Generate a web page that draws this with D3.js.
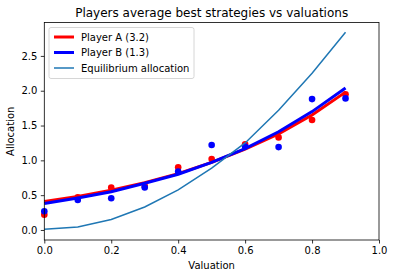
<!DOCTYPE html>
<html><head><meta charset="utf-8">
<script src="https://cdn.jsdelivr.net/npm/d3@7"></script>
<style>body{margin:0;background:#fff}svg{display:block}text{font-family:"DejaVu Sans",sans-serif;fill:#000}</style>
</head><body><svg id="c" width="394" height="278"></svg>
<script>
const valuations = [0, 0.1, 0.2, 0.3, 0.4, 0.5, 0.6, 0.7, 0.8, 0.9];
const playerADots = [0.22, 0.47, 0.61, 0.63, 0.90, 1.02, 1.23, 1.33, 1.58, 1.95];
const playerBDots = [0.27, 0.43, 0.455, 0.61, 0.84, 1.22, 1.20, 1.19, 1.88, 1.89];
const playerAFit = [0.41, 0.48, 0.57, 0.68, 0.81, 0.97, 1.16, 1.38, 1.65, 1.98];
const playerBFit = [0.38, 0.46, 0.55, 0.67, 0.80, 0.97, 1.17, 1.41, 1.70, 2.04];
const equilibrium = [0.01, 0.043, 0.15, 0.33, 0.575, 0.89, 1.25, 1.72, 2.25, 2.84];
const xTicks = [0, 0.2, 0.4, 0.6, 0.8, 1.0];
const yTicks = [0, 0.5, 1.0, 1.5, 2.0, 2.5];
const legendLabels = ["Player A (3.2)", "Player B (1.3)", "Equilibrium allocation"];

const svg = d3.select("#c");
const L = 44.3, R = 379, T = 22.5, B = 240;
const x = d3.scaleLinear().domain([0, 1]).range([L, R]);
const y = d3.scaleLinear().domain([-0.144, 2.98]).range([B, T]);

const xa = svg.append("g").attr("transform", `translate(0,${B})`)
  .call(d3.axisBottom(x).tickValues(xTicks).tickFormat(d3.format(".1f")).tickSize(3.5).tickPadding(3.5));
const ya = svg.append("g").attr("transform", `translate(${L},0)`)
  .call(d3.axisLeft(y).tickValues(yTicks).tickFormat(d3.format(".1f")).tickSize(3.5).tickPadding(3.5));
[xa, ya].forEach(a => { a.select(".domain").remove(); a.selectAll("text").attr("font-size", 10).style("font-family", "DejaVu Sans"); a.selectAll("line").attr("stroke", "#000").attr("stroke-width", 0.8); });

const plot = svg.append("g");
const line = d3.line().x((d, i) => x(valuations[i])).y(d => y(d));
plot.selectAll("circle.a").data(playerADots).join("circle").attr("cx", (d, i) => x(valuations[i])).attr("cy", d => y(d)).attr("r", 3.3).attr("fill", "#ff0000");
plot.append("path").datum(playerAFit).attr("d", line).attr("fill", "none").attr("stroke", "#ff0000").attr("stroke-width", 3);
plot.selectAll("circle.b").data(playerBDots).join("circle").attr("cx", (d, i) => x(valuations[i])).attr("cy", d => y(d)).attr("r", 3.3).attr("fill", "#0000ff");
plot.append("path").datum(playerBFit).attr("d", line).attr("fill", "none").attr("stroke", "#0000ff").attr("stroke-width", 3);
plot.append("path").datum(equilibrium).attr("d", line).attr("fill", "none").attr("stroke", "#1f77b4").attr("stroke-width", 1.5);

svg.append("rect").attr("x", L).attr("y", T).attr("width", R - L).attr("height", B - T).attr("fill", "none").attr("stroke", "#000").attr("stroke-width", 0.8);

svg.append("text").attr("x", (L + R) / 2).attr("y", 17).attr("text-anchor", "middle").attr("font-size", 12).text("Players average best strategies vs valuations");
svg.append("text").attr("x", (L + R) / 2).attr("y", 269).attr("text-anchor", "middle").attr("font-size", 10).text("Valuation");
svg.append("text").attr("transform", `translate(14,${(T + B) / 2}) rotate(-90)`).attr("text-anchor", "middle").attr("font-size", 10).text("Allocation");

const lg = svg.append("g").attr("transform", "translate(49,27.5)");
lg.append("rect").attr("width", 145).attr("height", 51).attr("rx", 2).attr("fill", "#fff").attr("fill-opacity", 0.8).attr("stroke", "#ccc").attr("stroke-width", 0.8);
const lcolors = ["#ff0000", "#0000ff", "#1f77b4"], lwidths = [3, 3, 1.5];
legendLabels.forEach((t, i) => {
  const yy = 9.5 + i * 15.5;
  lg.append("line").attr("x1", 5).attr("x2", 25).attr("y1", yy).attr("y2", yy).attr("stroke", lcolors[i]).attr("stroke-width", lwidths[i]);
  lg.append("text").attr("x", 32).attr("y", yy + 3.6).attr("font-size", 10).text(t);
});
</script></body></html>
